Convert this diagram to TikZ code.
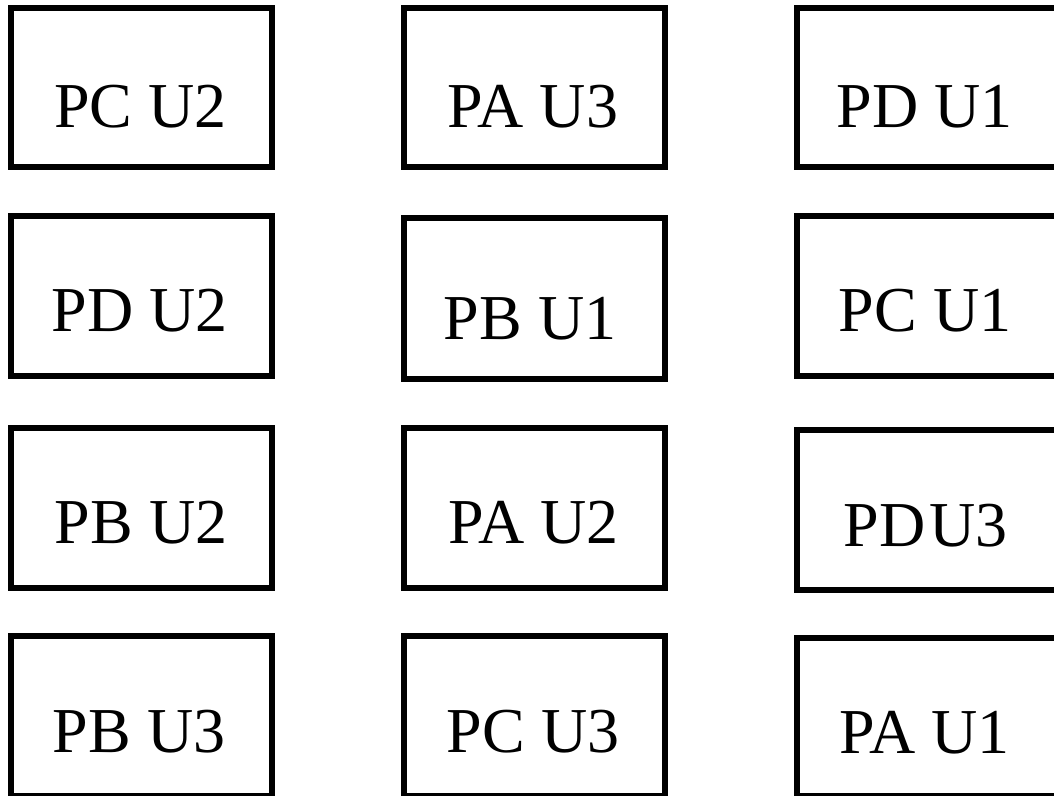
\documentclass[tikz,border=0pt]{standalone}
\usepackage{fontspec}
\setmainfont{Liberation Serif}
\begin{document}
\begin{tikzpicture}[x=0.75pt,y=-0.75pt,
  boxst/.style={draw=black,line width=5.2pt,rectangle,inner sep=0pt,fill=none},
  lbl/.style={anchor=base,inner sep=0pt,font=\fontsize{48}{56}\selectfont}]
\useasboundingbox (0,0) rectangle (1054,796);
\clip (0,0) rectangle (1054,796);
% row 1
\node[boxst,minimum width=195.75pt,minimum height=119.25pt] (b11) at (141.5,87.5) {};
\node[boxst,minimum width=195.75pt,minimum height=119.25pt] (b12) at (534.5,87.5) {};
\node[boxst,minimum width=198.75pt,minimum height=119.25pt] (b13) at (929.5,87.5) {};
\node[lbl] (t11) at (140.5,127) {PC U2};
\node[lbl] (t12) at (533,127) {PA U3};
\node[lbl] (t13) at (924.5,127) {PD U1};
% row 2
\node[boxst,minimum width=195.75pt,minimum height=120pt] (b21) at (141.5,296) {};
\node[boxst,minimum width=195.75pt,minimum height=120.75pt] (b22) at (534.5,298.5) {};
\node[boxst,minimum width=198.75pt,minimum height=120pt] (b23) at (929.5,296) {};
\node[lbl] (t21) at (140,331) {PD U2};
\node[lbl] (t22) at (530,339) {PB U1};
\node[lbl] (t23) at (925,331) {PC U1};
% row 3
\node[boxst,minimum width=195.75pt,minimum height=120pt] (b31) at (141.5,508) {};
\node[boxst,minimum width=195.75pt,minimum height=120pt] (b32) at (534.5,508) {};
\node[boxst,minimum width=198.75pt,minimum height=120pt] (b33) at (929.5,510) {};
\node[lbl] (t31) at (141,543) {PB U2};
\node[lbl] (t32) at (533.5,543) {PA U2};
\node[lbl] (t33) at (925.5,546) {PD\hspace{0.06em}U3};
% row 4
\node[boxst,minimum width=195.75pt,minimum height=120pt] (b41) at (141.5,716) {};
\node[boxst,minimum width=195.75pt,minimum height=120pt] (b42) at (534.5,716) {};
\node[boxst,minimum width=198.75pt,minimum height=118.5pt] (b43) at (929.5,717) {};
\node[lbl] (t41) at (139,752) {PB U3};
\node[lbl] (t42) at (533,752) {PC U3};
\node[lbl] (t43) at (924.5,753) {PA U1};
\end{tikzpicture}
\end{document}
